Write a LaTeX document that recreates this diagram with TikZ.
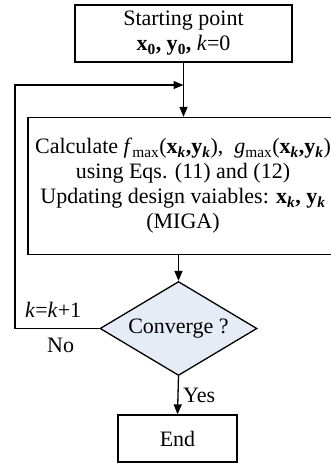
\documentclass[tikz,border=0pt]{standalone}
\usepackage{fontspec}
\setmainfont{Liberation Serif}
\usetikzlibrary{arrows.meta,shapes.geometric}
\definecolor{decfill}{RGB}{230,236,246}
% bold vector with bold-italic index
\newcommand{\bvec}[2]{\textbf{#1}\textsubscript{\textbf{#2}}}
\begin{document}
\begin{tikzpicture}[x=1pt,y=-1pt,
  txt/.style={font=\fontsize{22}{25}\selectfont},
  box/.style={draw, line width=1.3pt, inner sep=0pt, align=center, txt},
  flow/.style={line width=1.3pt, -{Triangle[length=10pt,width=8pt]}},
  link/.style={line width=1.3pt}]
\useasboundingbox (0,0) rectangle (330,463);

% process blocks
\node[box, minimum width=217pt, minimum height=57pt] (start) at (183.5,33.5)
  {Starting point\\ \bvec{x}{0}\textbf{,} \bvec{y}{0}\textbf{,} \textit{k}=0};
\node[box, minimum width=310pt, minimum height=137pt] (calc) at (183,186)
  {Calculate \textit{f}\textsubscript{max}(\bvec{x}{\textit{k}}\textbf{,}\bvec{y}{\textit{k}}),~~\textit{g}\textsubscript{max}(\bvec{x}{\textit{k}}\textbf{,}\bvec{y}{\textit{k}})\\
   using Eqs. (11) and (12)\\
   Updating design vaiables: \bvec{x}{\textit{k}}\textbf{,} \bvec{y}{\textit{k}}\\
   (MIGA)};
\node[draw, diamond, aspect=1.67, fill=decfill, line width=1.3pt, inner sep=0pt,
      minimum width=157pt, minimum height=94pt, txt] (conv) at (178.5,328.5) {Converge ?};
\node[box, minimum width=119pt, minimum height=47pt] (stop) at (177.5,438.5) {End};

% connectors
\coordinate (turn) at (15,85);
\coordinate (join) at (start.south |- turn);
\draw[flow] (start.south) -- (start.south |- calc.north);
\draw[flow] (calc.south -| conv.north) -- (conv.north);
\draw[flow] (conv.south) -- (stop.north);
\draw[flow] (conv.west) -| (turn) -- (join);

% labels
\node[txt, anchor=base west, inner sep=0pt] (inc) at (25,317) {\textit{k}=\textit{k}+1};
\node[txt, anchor=base west, inner sep=0pt] (no) at (47,352) {No};
\node[txt, anchor=base west, inner sep=0pt] (yes) at (183,402) {Yes};
\end{tikzpicture}
\end{document}
